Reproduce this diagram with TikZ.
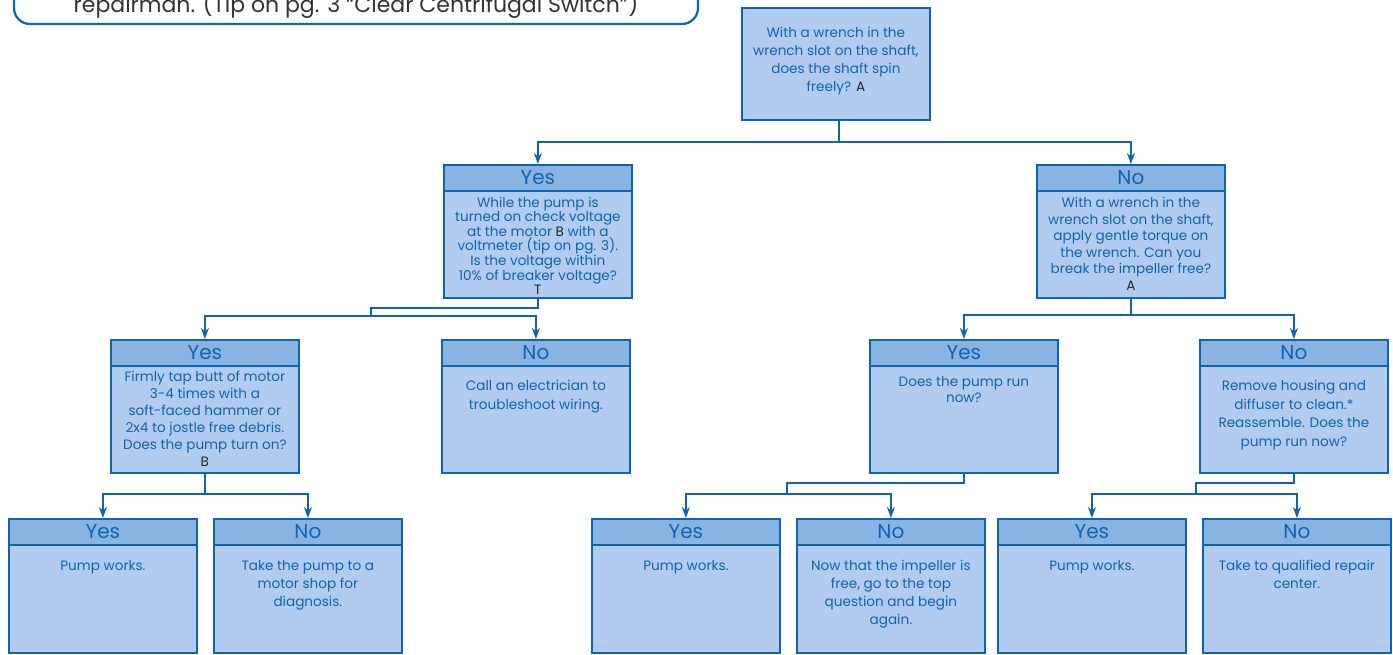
\documentclass[tikz,border=0pt]{standalone}
\usepackage{fontspec}
\setmainfont{Poppins}
\usepackage{xcolor}
\usetikzlibrary{arrows.meta, positioning}

\definecolor{pumpblue}{HTML}{0F63B5}
\definecolor{pumphead}{HTML}{88B4E1}
\definecolor{pumpbody}{HTML}{B1CCEE}
\definecolor{tipgray}{HTML}{333333}

\newcommand{\lbl}[1]{\textcolor{black!85}{#1}}

\tikzset{
  box/.style={draw=pumpblue, fill=pumpbody, line width=1.8pt, minimum width=188pt, minimum height=133pt, inner sep=0pt, anchor=north west},
  head/.style={draw=pumpblue, fill=pumphead, line width=1.8pt, minimum width=188pt, minimum height=26pt, inner sep=0pt, anchor=north, text=pumpblue, font=\fontsize{20}{20}\selectfont},
  body/.style={anchor=north, align=center, inner sep=0pt, text=pumpblue, font=\fontsize{13.6}{#1}\selectfont},
  body/.default=18,
  tipbox/.style={draw=pumpblue, fill=white, line width=2.2pt, rounded corners=16pt, minimum width=684pt, inner sep=0pt, text height=40pt, text depth=12pt, text=tipgray, font=\fontsize{22}{22}\selectfont},
  link/.style={draw=pumpblue, line width=1.4pt},
  arrow/.style={link, -{Stealth[length=11pt, width=8pt, inset=3.5pt]}},
}

\begin{document}
\begin{tikzpicture}[x=1pt, y=-1pt]
        \useasboundingbox (0,0) rectangle (1393,654);

        % Tip box, cut by the top edge
        \node[tipbox, anchor=base] (tip) at (356,12) {repairman. (Tip on pg. 3 ``Clear Centrifugal Switch'')};

        % Top question
        \node[box, minimum height=112pt] (root) at (741,7) {};
        \node[body, below=20pt of root.north] (roott) {With a wrench in the\\wrench slot on the shaft,\\does the shaft spin\\freely? \lbl{A}};

        % Level 1
        \node[box] (yes1) at (443,164) {};
        \node[head] (yes1h) at (yes1.north) {Yes};
        \node[body=14, below=33pt of yes1.north] (yes1t) {While the pump is\\turned on check voltage\\at the motor \lbl{B} with a\\voltmeter (tip on pg. 3).\\Is the voltage within\\10\% of breaker voltage?\\\lbl{T}};

        \node[box] (no1) at (1036,164) {};
        \node[head] (no1h) at (no1.north) {No};
        \node[body=16.6, below=33pt of no1.north] (no1t) {With a wrench in the\\wrench slot on the shaft,\\apply gentle torque on\\the wrench. Can you\\break the impeller free?\\\lbl{A}};

        % Level 2
        \node[box] (yesB) at (110,339) {};
        \node[head] (yesBh) at (yesB.north) {Yes};
        \node[body=17, below=32pt of yesB.north] (yesBt) {Firmly tap butt of motor\\3-4 times with a\\soft-faced hammer or\\2x4 to jostle free debris.\\Does the pump turn on?\\\lbl{B}};

        \node[box] (elec) at (441,339) {};
        \node[head] (elech) at (elec.north) {No};
        \node[body=19, below=41pt of elec.north] (elect) {Call an electrician to\\troubleshoot wiring.};

        \node[box] (yes2) at (869,339) {};
        \node[head] (yes2h) at (yes2.north) {Yes};
        \node[body=16, below=37pt of yes2.north] (yes2t) {Does the pump run\\now?};

        \node[box] (no2) at (1199,339) {};
        \node[head] (no2h) at (no2.north) {No};
        \node[body=18.5, below=41pt of no2.north] (no2t) {Remove housing and\\diffuser to clean.*\\Reassemble. Does the\\pump run now?};

        % Level 3
        \node[box, minimum height=134pt] (worksA) at (8,518) {};
        \node[head] (worksAh) at (worksA.north) {Yes};
        \node[body, below=42pt of worksA.north] (worksAt) {Pump works.};

        \node[box, minimum height=134pt] (shop) at (213,518) {};
        \node[head] (shoph) at (shop.north) {No};
        \node[body, below=42pt of shop.north] (shopt) {Take the pump to a\\motor shop for\\diagnosis.};

        \node[box, minimum height=134pt] (worksB) at (591,518) {};
        \node[head] (worksBh) at (worksB.north) {Yes};
        \node[body, below=42pt of worksB.north] (worksBt) {Pump works.};

        \node[box, minimum height=134pt] (again) at (796,518) {};
        \node[head] (againh) at (again.north) {No};
        \node[body, below=42pt of again.north] (againt) {Now that the impeller is\\free, go to the top\\question and begin\\again.};

        \node[box, minimum height=134pt] (worksC) at (997,518) {};
        \node[head] (worksCh) at (worksC.north) {Yes};
        \node[body, below=42pt of worksC.north] (worksCt) {Pump works.};

        \node[box, minimum height=134pt] (center) at (1202,518) {};
        \node[head] (centerh) at (center.north) {No};
        \node[body, below=42pt of center.north] (centert) {Take to qualified repair\\center.};

        % Connectors
        \coordinate (j0) at (839,142);
        \draw[link] (j0 |- root.south) -- (j0);
        \draw[arrow] (j0) -| (yes1.north);
        \draw[arrow] (j0) -| (no1.north);

        \coordinate (j1) at (371,316);
        \draw[link] (yes1.south) -- ++(0,9) -| (j1);
        \draw[arrow] (j1) -| (yesB.north);
        \draw[arrow] (j1) -| (elec.north);

        \coordinate (j2) at (no1.south |- 0,315);
        \draw[link] (no1.south) -- (j2);
        \draw[arrow] (j2) -| (yes2.north);
        \draw[arrow] (j2) -| (no2.north);

        \coordinate (j3) at (yesB.south |- 0,494);
        \draw[link] (yesB.south) -- (j3);
        \draw[arrow] (j3) -| (worksA.north);
        \draw[arrow] (j3) -| (shop.north);

        \coordinate (j4) at (787,494);
        \draw[link] (yes2.south) -- ++(0,9) -| (j4);
        \draw[arrow] (j4) -| (worksB.north);
        \draw[arrow] (j4) -| (again.north);

        \coordinate (j5) at (1196,494);
        \draw[link] (no2.south) -- ++(0,9) -| (j5);
        \draw[arrow] (j5) -| (worksC.north);
        \draw[arrow] (j5) -| (center.north);
    \end{tikzpicture}
\end{document}
